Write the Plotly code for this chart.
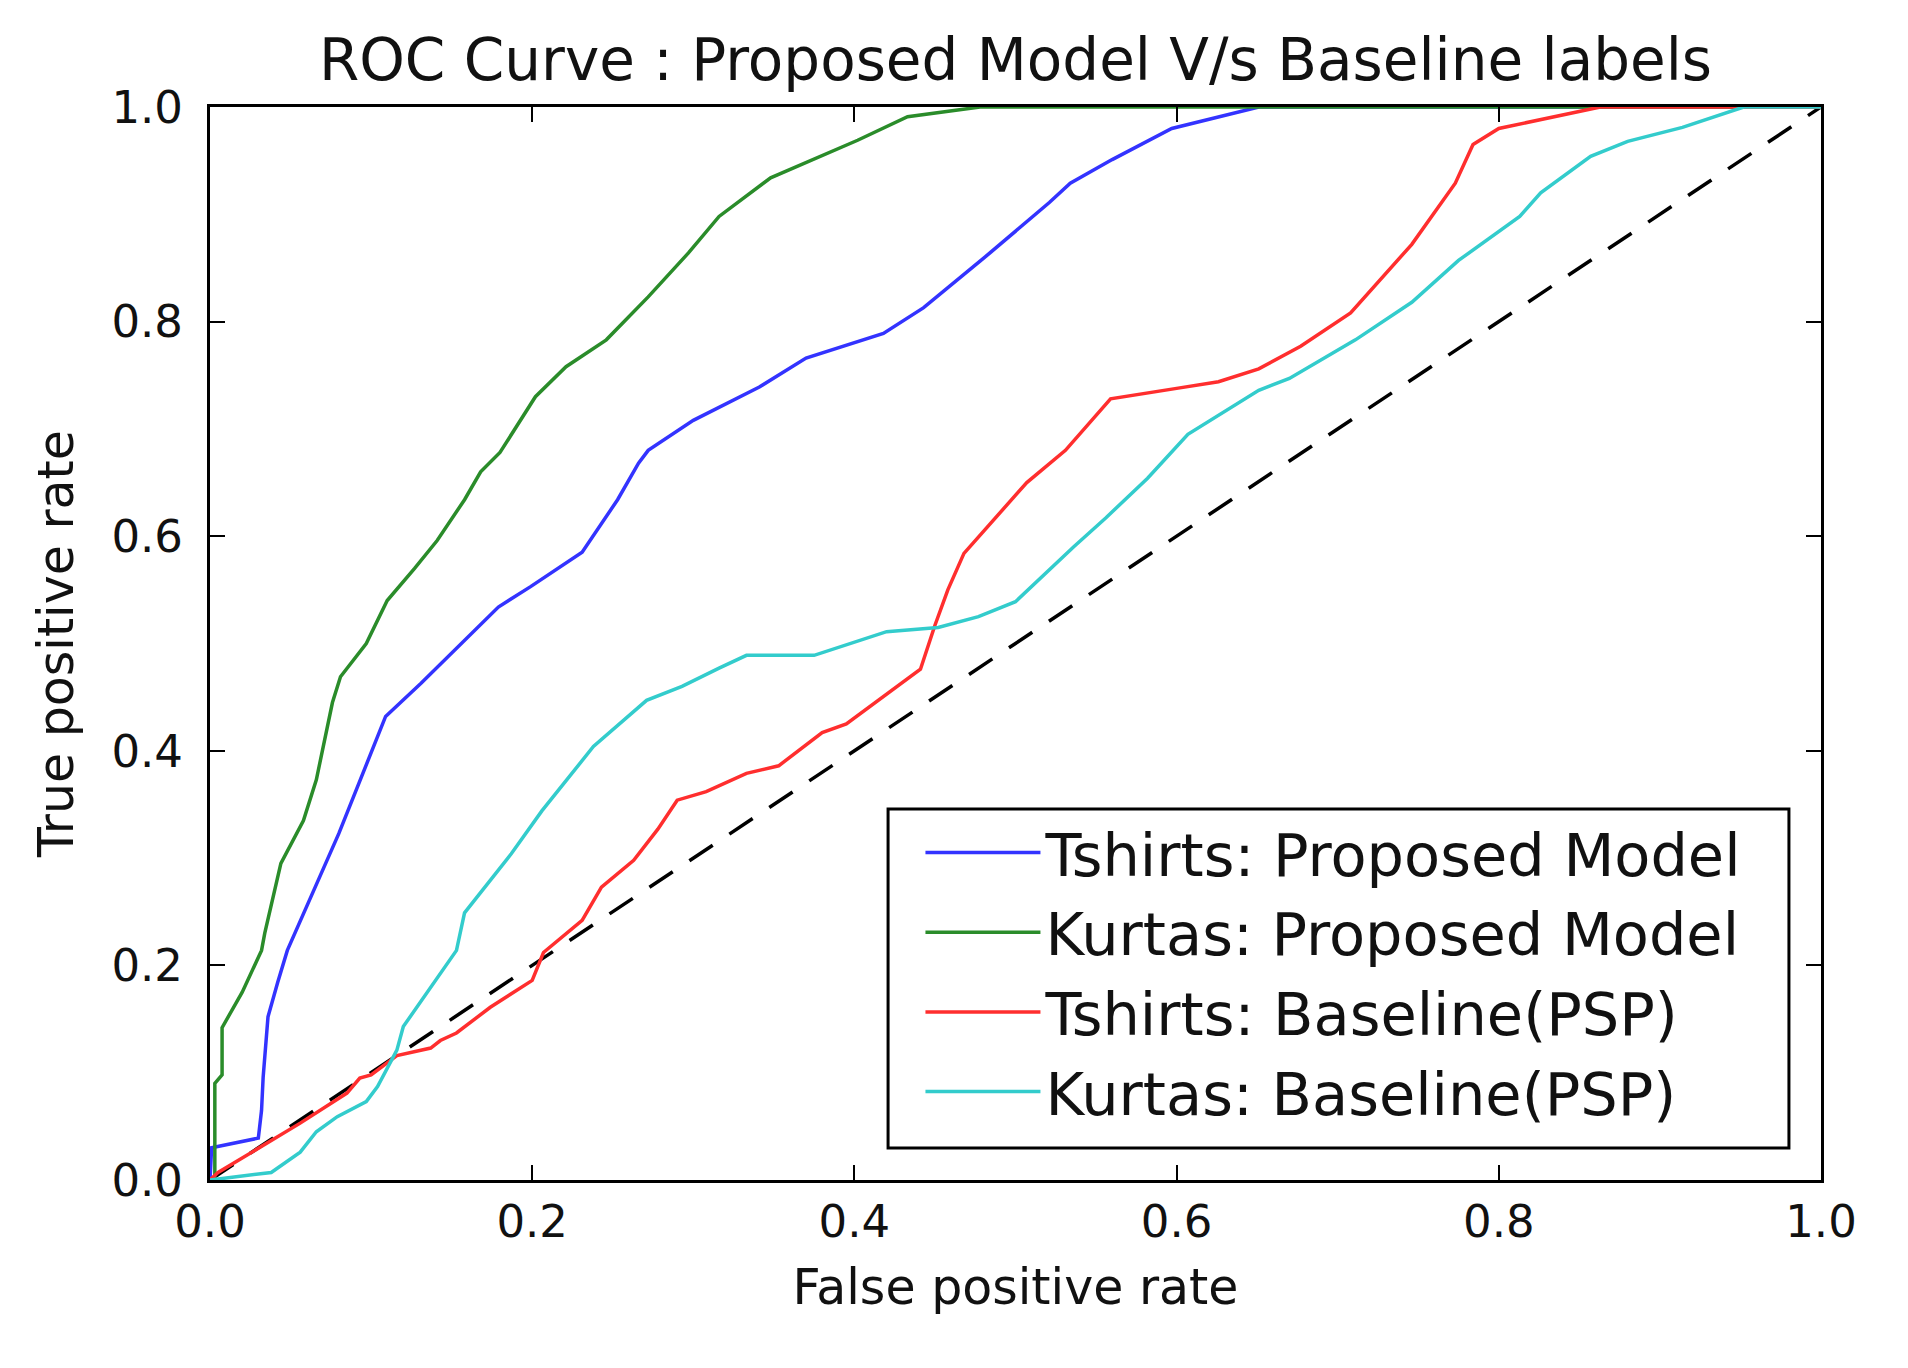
import plotly.graph_objects as go

# ROC points
fpr_tshirt_model = [0.0, 0.001, 0.030, 0.032, 0.033, 0.036, 0.042, 0.048, 0.080, 0.109, 0.131, 0.160,
                    0.179, 0.199, 0.231, 0.253, 0.266, 0.272, 0.300, 0.341, 0.370, 0.418, 0.443, 0.481,
                    0.521, 0.534, 0.560, 0.597, 0.651, 1.0]
tpr_tshirt_model = [0.0, 0.030, 0.039, 0.065, 0.096, 0.152, 0.184, 0.214, 0.323, 0.432, 0.463, 0.506,
                    0.534, 0.553, 0.585, 0.634, 0.668, 0.680, 0.708, 0.739, 0.766, 0.789, 0.813, 0.860,
                    0.911, 0.929, 0.951, 0.980, 1.0, 1.0]

fpr_kurta_model = [0.0, 0.003, 0.003, 0.0075, 0.0075, 0.020, 0.032, 0.034, 0.044, 0.058, 0.066, 0.076,
                   0.081, 0.097, 0.110, 0.127, 0.141, 0.158, 0.168, 0.180, 0.202, 0.221, 0.246, 0.272,
                   0.297, 0.316, 0.348, 0.402, 0.433, 0.478, 1.0]
tpr_kurta_model = [0.0, 0.0, 0.090, 0.098, 0.142, 0.175, 0.214, 0.230, 0.295, 0.335, 0.373, 0.445,
                   0.469, 0.500, 0.540, 0.570, 0.596, 0.634, 0.660, 0.678, 0.730, 0.758, 0.783, 0.823,
                   0.864, 0.898, 0.934, 0.969, 0.991, 1.0, 1.0]

fpr_tshirt_base = [0.0, 0.005, 0.056, 0.085, 0.093, 0.100, 0.116, 0.137, 0.143, 0.153, 0.174, 0.200,
                   0.207, 0.231, 0.243, 0.263, 0.278, 0.290, 0.308, 0.333, 0.353, 0.380, 0.395, 0.441,
                   0.450, 0.458, 0.468, 0.507, 0.531, 0.559, 0.601, 0.626, 0.651, 0.677, 0.708, 0.746,
                   0.773, 0.784, 0.800, 0.838, 0.863, 1.0]
tpr_tshirt_base = [0.0, 0.007, 0.053, 0.081, 0.095, 0.098, 0.116, 0.123, 0.130, 0.137, 0.161, 0.186,
                   0.212, 0.242, 0.273, 0.298, 0.327, 0.354, 0.362, 0.379, 0.386, 0.417, 0.425, 0.476,
                   0.517, 0.550, 0.584, 0.650, 0.680, 0.728, 0.738, 0.744, 0.756, 0.777, 0.808, 0.872,
                   0.929, 0.965, 0.980, 0.992, 1.0, 1.0]

fpr_kurta_base = [0.0, 0.038, 0.056, 0.066, 0.079, 0.097, 0.104, 0.116, 0.120, 0.128, 0.153, 0.158,
                  0.172, 0.187, 0.206, 0.221, 0.238, 0.271, 0.293, 0.316, 0.333, 0.375, 0.420, 0.452,
                  0.477, 0.500, 0.536, 0.556, 0.582, 0.607, 0.651, 0.670, 0.711, 0.746, 0.775, 0.813,
                  0.826, 0.857, 0.880, 0.914, 0.952, 1.0]
tpr_kurta_base = [0.0, 0.007, 0.026, 0.045, 0.059, 0.073, 0.087, 0.121, 0.143, 0.160, 0.214, 0.249,
                  0.276, 0.304, 0.344, 0.372, 0.404, 0.447, 0.460, 0.477, 0.489, 0.489, 0.511, 0.515,
                  0.525, 0.539, 0.590, 0.617, 0.654, 0.695, 0.736, 0.747, 0.783, 0.818, 0.857, 0.898,
                  0.920, 0.954, 0.968, 0.981, 1.0, 1.0]

chance = [0.0, 1.0]
tick_vals = [0.0, 0.2, 0.4, 0.6, 0.8, 1.0]

FONT = "DejaVu Sans"
INK = "#111111"

fig = go.Figure()

fig.add_trace(go.Scatter(x=chance, y=chance, mode="lines", showlegend=False,
                         line=dict(color="black", width=3.5, dash="28px,20px")))

series = [
    ("Tshirts: Proposed Model", fpr_tshirt_model, tpr_tshirt_model, "#3333ff"),
    ("Kurtas: Proposed Model", fpr_kurta_model, tpr_kurta_model, "#2a8c2a"),
    ("Tshirts: Baseline(PSP)", fpr_tshirt_base, tpr_tshirt_base, "#ff2e2e"),
    ("Kurtas: Baseline(PSP)", fpr_kurta_base, tpr_kurta_base, "#33cccc"),
]
for name, fx, ty, col in series:
    fig.add_trace(go.Scatter(x=fx, y=ty, mode="lines", name=name,
                             line=dict(color=col, width=3.5)))

axis_style = dict(
    range=[0, 1], tickvals=tick_vals, tickformat=".1f",
    showline=True, linecolor="black", linewidth=3, mirror="ticks",
    ticks="inside", ticklen=15, tickwidth=2, tickcolor="black",
    showgrid=False, zeroline=False,
    tickfont=dict(family=FONT, size=45, color=INK),
)

fig.update_xaxes(**axis_style, ticklabelstandoff=0,
                 title=dict(text="False positive rate", standoff=23,
                            font=dict(family=FONT, size=49, color=INK)))
fig.update_yaxes(**axis_style, ticklabelstandoff=15,
                 title=dict(text="True positive rate", standoff=23,
                            font=dict(family=FONT, size=49, color=INK)))

# legend frame (matplotlib style box), legend entries drawn inside it
fig.add_shape(type="rect", xref="paper", yref="paper",
              x0=0.4209, x1=0.9801, y0=0.0298, y1=0.3458,
              line=dict(color="black", width=3), fillcolor="white", layer="above")

fig.update_layout(
    width=1908, height=1368,
    margin=dict(l=202, r=95, t=99, b=196),
    paper_bgcolor="white", plot_bgcolor="white",
    font=dict(family=FONT, color=INK),
    title=dict(text="ROC Curve : Proposed Model V/s Baseline labels",
               x=0.5, xref="paper", xanchor="center",
               y=1 - 52 / 1368, yanchor="middle",
               font=dict(family=FONT, size=58, color=INK)),
    legend=dict(x=0.441, y=0.347, xanchor="left", yanchor="top",
                bgcolor="rgba(0,0,0,0)", borderwidth=0,
                itemwidth=115,
                font=dict(family=FONT, size=59, color=INK)),
)

fig.write_html("out.html")
